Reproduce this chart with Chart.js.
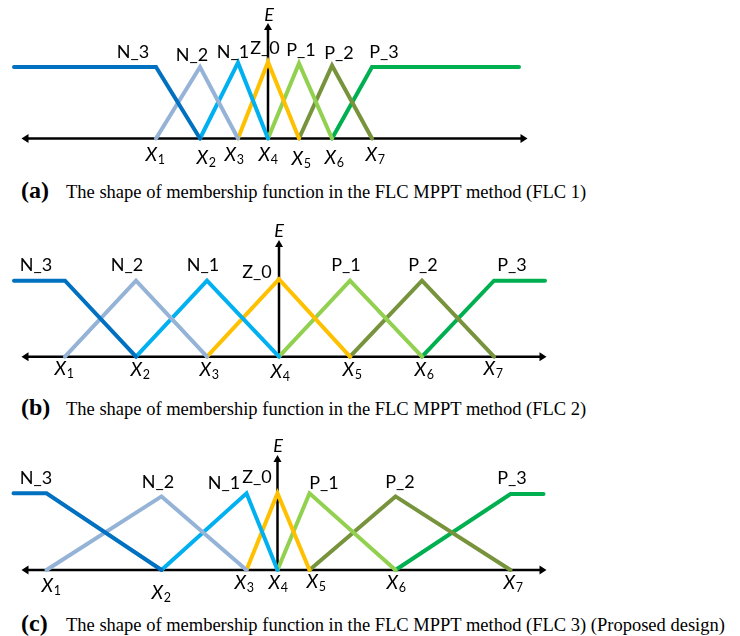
<!DOCTYPE html>
<html>
<head>
<meta charset="utf-8">
<script src="https://cdn.jsdelivr.net/npm/chart.js@4.4.1/dist/chart.umd.min.js"></script>
<style>
    body { margin: 0; background: #fff; }
    #wrap { position: relative; width: 740px; height: 636px; overflow: hidden; }
    #wrap canvas { position: absolute; left: 0; }
    .cap { position: absolute; white-space: nowrap; line-height: 1; color: #000;
           font-family: "Liberation Serif", "Times New Roman", serif; }
    .cap.tag { font-weight: bold; font-size: 24px; }
    .cap.txt { font-size: 18.5px; }
</style>
</head>
<body>
<div id="wrap">
    <canvas id="flc1"></canvas>
    <canvas id="flc2"></canvas>
    <canvas id="flc3"></canvas>
    <div class="cap tag" style="left:21px; top:178px;">(a)</div>
    <div class="cap txt" style="left:66px; top:183px;">The shape of membership function in the FLC MPPT method (FLC 1)</div>
    <div class="cap tag" style="left:21px; top:395px;">(b)</div>
    <div class="cap txt" style="left:66px; top:400px;">The shape of membership function in the FLC MPPT method (FLC 2)</div>
    <div class="cap tag" style="left:21px; top:611px;">(c)</div>
    <div class="cap txt" style="left:66px; top:616px;">The shape of membership function in the FLC MPPT method (FLC 3) (Proposed design)</div>
</div>
<script>
// fuzzy terms, left to right
var terms = ['N_3', 'N_2', 'N_1', 'Z_0', 'P_1', 'P_2', 'P_3'];
var tickNames = ['1', '2', '3', '4', '5', '6', '7'];   // subscripts of X1..X7

// breakpoints X1..X7 of each design (X4 sits on the E axis)
var xFlc1 = [-112, -68, -30, 0, 31, 64, 104];
var xFlc2 = [-214, -143, -72, 0, 71, 143, 215];
var xFlc3 = [-231, -116, -31, 0, 32, 118, 233];

// height of each term's peak (1 = full membership)
var peakFlc1 = [1, 1, 1.06, 1.07, 1.05, 1.02, 1];
var peakFlc2 = [1, 1, 1, 1.02, 1, 1, 1];
var peakFlc3 = [1, 0.96, 1, 1, 1, 0.96, 0.99];

// where the N_3 / P_3 shoulders end
var endsFlc1 = [-254, 251];
var endsFlc2 = [-265, 266];
var endsFlc3 = [-264, 266];

var termColors = ['#0070C0', '#95B3D7', '#00B0F0', '#FFC000', '#92D050', '#77933C', '#00B050'];

// page layout of the three panels (pixels)
var panels = [
    {
        id: 'flc1', top: 0, h: 174, zeroX: 268, zeroY: 138.5, unit: 71.5,
        xs: xFlc1, peaks: peakFlc1, ends: endsFlc1,
        axis: [21.5, 527.5], eTop: 23, eLabel: [269, 15],
        termPos: [[133, 52], [192, 55], [233, 52], [265, 48], [301, 50], [339, 53], [384, 52]],
        tickPos: [[155, 154], [206, 157], [234, 154], [268, 154], [301, 158], [334, 157], [375, 154]]
    },
    {
        id: 'flc2', top: 212, h: 178, zeroX: 279, zeroY: 356.7, unit: 76,
        xs: xFlc2, peaks: peakFlc2, ends: endsFlc2,
        axis: [21.5, 546.5], eTop: 240, eLabel: [279, 231],
        termPos: [[36, 265], [127, 265], [203, 265], [257, 272], [346, 265], [423, 265], [512, 265]],
        tickPos: [[64, 368], [140, 369], [209, 369], [280, 371], [352, 369], [424, 369], [493, 368]]
    },
    {
        id: 'flc3', top: 428, h: 180, zeroX: 277.5, zeroY: 570, unit: 76.7,
        xs: xFlc3, peaks: peakFlc3, ends: endsFlc3,
        axis: [21.5, 546.5], eTop: 455, eLabel: [278, 446],
        termPos: [[36, 478], [158, 482], [224, 483], [257, 477], [324, 483], [400, 482], [512, 478]],
        tickPos: [[51, 585], [161, 592], [244, 582], [278, 582], [316, 581], [396, 582], [513, 582]]
    }
];

function arrowHead(ctx, x, y, dx, dy, len, half) {
    // tip at (x, y), pointing along (dx, dy)
    ctx.beginPath();
    ctx.moveTo(x, y);
    ctx.lineTo(x - dx * len - dy * half, y - dy * len + dx * half);
    ctx.lineTo(x - dx * len + dy * half, y - dy * len - dx * half);
    ctx.closePath();
    ctx.fill();
}

var axesPlugin = {
    id: 'fuzzyAxes',
    beforeDatasetsDraw: function (chart) {
        var p = chart.options.plugins.fuzzyAxes.panel;
        var ctx = chart.ctx;
        var y0 = chart.scales.y.getPixelForValue(0);
        var x0 = chart.scales.x.getPixelForValue(0);
        ctx.save();
        ctx.strokeStyle = '#000';
        ctx.fillStyle = '#000';
        ctx.lineWidth = 2.5;
        // horizontal axis, arrows both ways
        ctx.beginPath();
        ctx.moveTo(p.axis[0] + 4, y0);
        ctx.lineTo(p.axis[1] - 4, y0);
        ctx.stroke();
        arrowHead(ctx, p.axis[0], y0, -1, 0, 7, 4.5);
        arrowHead(ctx, p.axis[1], y0, 1, 0, 7, 4.5);
        // E axis
        var top = p.eTop - p.top;
        ctx.beginPath();
        ctx.moveTo(x0, y0);
        ctx.lineTo(x0, top + 4);
        ctx.stroke();
        arrowHead(ctx, x0, top, 0, -1, 7, 4);
        ctx.restore();
    },
    afterDatasetsDraw: function (chart) {
        var p = chart.options.plugins.fuzzyAxes.panel;
        var ctx = chart.ctx;
        ctx.save();
        ctx.fillStyle = '#000';
        ctx.textBaseline = 'middle';
        ctx.textAlign = 'center';
        ctx.font = 'italic 18px Lato, "Noto Sans", sans-serif';
        ctx.fillText('E', p.eLabel[0], p.eLabel[1] - p.top);
        ctx.font = '18px Lato, "Noto Sans", sans-serif';
        terms.forEach(function (t, i) {
            ctx.fillText(t, p.termPos[i][0], p.termPos[i][1] - p.top);
        });
        // X1..X7 labels with subscripts
        ctx.textAlign = 'left';
        ctx.textBaseline = 'alphabetic';
        tickNames.forEach(function (s, i) {
            var cx = p.tickPos[i][0], cy = p.tickPos[i][1] - p.top;
            ctx.font = 'italic 19px Lato, "Noto Sans", sans-serif';
            var wX = ctx.measureText('X').width;
            ctx.font = '12.5px Lato, "Noto Sans", sans-serif';
            var wS = ctx.measureText(s).width;
            var left = cx - (wX + wS) / 2;
            ctx.font = 'italic 19px Lato, "Noto Sans", sans-serif';
            ctx.fillText('X', left, cy + 7);
            ctx.font = '12.5px Lato, "Noto Sans", sans-serif';
            ctx.fillText(s, left + wX + 0.5, cy + 10);
        });
        ctx.restore();
    }
};

function termPoints(p, i) {
    var xs = p.xs, pk = p.peaks, last = terms.length - 1;
    if (i === 0) {
        return [{ x: p.ends[0], y: pk[0] }, { x: xs[0], y: pk[0] }, { x: xs[1], y: 0 }];
    }
    if (i === last) {
        return [{ x: xs[last - 1], y: 0 }, { x: xs[last], y: pk[last] }, { x: p.ends[1], y: pk[last] }];
    }
    return [{ x: xs[i - 1], y: 0 }, { x: xs[i], y: pk[i] }, { x: xs[i + 1], y: 0 }];
}

panels.forEach(function (p) {
    var cv = document.getElementById(p.id);
    cv.style.top = p.top + 'px';
    cv.width = 740;
    cv.height = p.h;
    cv.style.width = '740px';
    cv.style.height = p.h + 'px';
    var zy = p.zeroY - p.top;

    var datasets = terms.map(function (t, i) {
        return {
            label: t,
            data: termPoints(p, i),
            showLine: true,
            borderColor: termColors[i],
            backgroundColor: termColors[i],
            borderWidth: 4,
            borderCapStyle: 'round',
            borderJoinStyle: 'miter',
            pointRadius: 0,
            tension: 0,
            fill: false,
            clip: false
        };
    });

    new Chart(cv.getContext('2d'), {
        type: 'scatter',
        data: { datasets: datasets },
        options: {
            responsive: false,
            animation: false,
            events: [],
            layout: { padding: 0 },
            plugins: {
                legend: { display: false },
                tooltip: { enabled: false },
                fuzzyAxes: { panel: p }
            },
            scales: {
                x: { type: 'linear', display: false, min: -p.zeroX, max: 740 - p.zeroX },
                y: { type: 'linear', display: false, min: -(p.h - zy) / p.unit, max: zy / p.unit }
            }
        },
        plugins: [axesPlugin]
    });
});
</script>
</body>
</html>
